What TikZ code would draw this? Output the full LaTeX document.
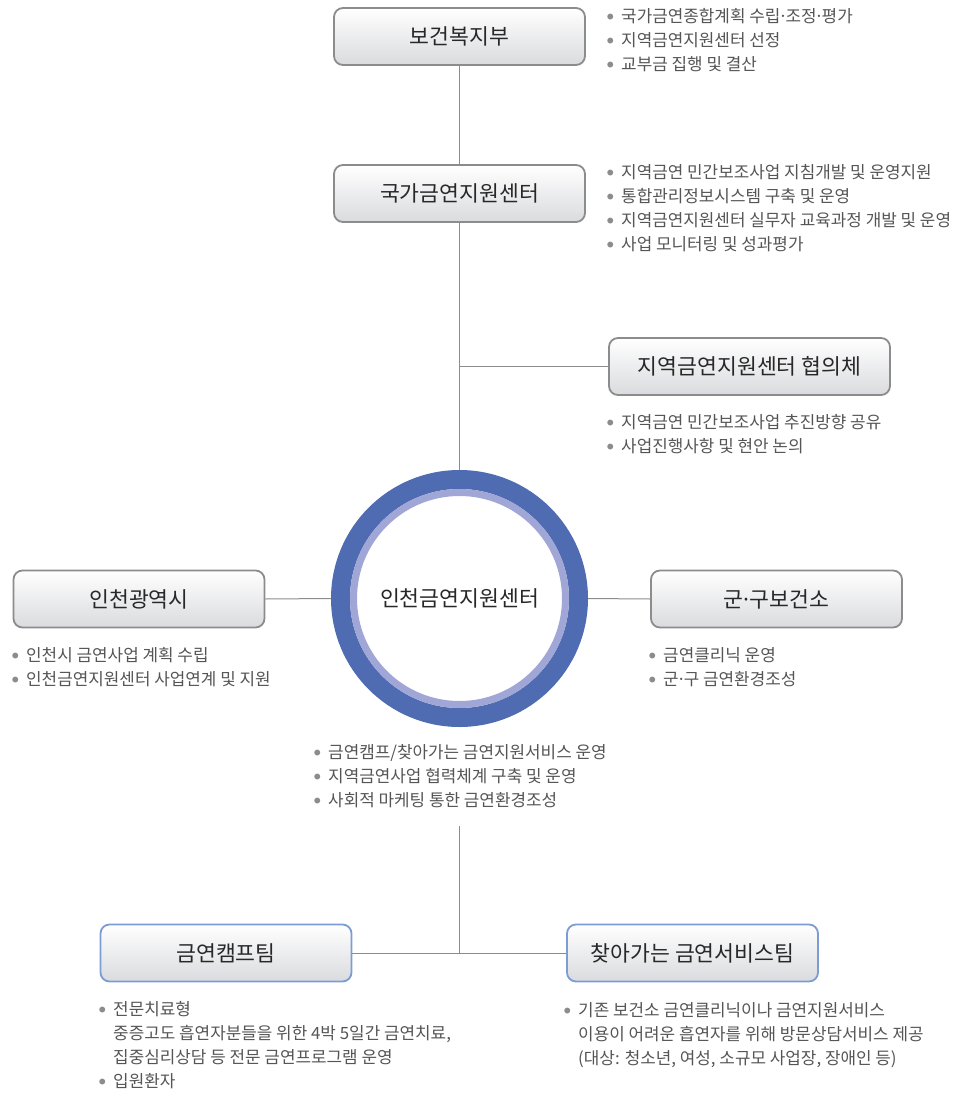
\documentclass[tikz,border=0pt]{standalone}
\usepackage{fontspec}
\setmainfont{Noto Sans CJK KR}
\usepackage{tikz}
\usetikzlibrary{positioning,calc}
\definecolor{boxline}{RGB}{140,140,140}
\definecolor{boxblue}{RGB}{124,156,212}
\definecolor{boxbottom}{RGB}{218,219,222}
\definecolor{ringdark}{RGB}{79,107,177}
\definecolor{ringlight}{RGB}{160,166,214}
\definecolor{linegray}{RGB}{140,140,140}
\definecolor{txtdark}{RGB}{40,40,40}
\definecolor{txtgray}{RGB}{85,85,85}
\definecolor{dotgray}{RGB}{140,140,140}
\newcommand{\itm}{\makebox[14pt][l]{\textcolor{dotgray}{\fontsize{6.5}{6.5}\selectfont\raisebox{2.5pt}{●}}}}
\newcommand{\ind}{\hspace*{14pt}}
\newcommand{\md}{\makebox[0.3em]{·}}

\begin{document}
\begin{tikzpicture}[
    x=1pt, y=-1pt,
    base/.style={rectangle,rounded corners=9pt,draw=boxline,line width=1.8pt,
        top color=white,bottom color=boxbottom,minimum width=251pt,minimum height=57pt,
        font={\fontsize{21.6}{26}\selectfont},text=txtdark,inner sep=0pt},
    team/.style={base,draw=boxblue},
    hub/.style={circle,draw=ringdark,line width=19pt,fill=white,minimum size=238pt,
        font={\fontsize{21.6}{26}\selectfont},text=txtdark,inner sep=0pt},
    txt/.style={anchor=north west,inner sep=0pt,align=left,text=txtgray,
        font={\fontsize{16.9}{24}\selectfont}},
    con/.style={draw=linegray,line width=1pt}
]
    \useasboundingbox (0,0) rectangle (959,1094);

    % top chain
    \node[base] (bok) at (459.5,36.5) {보건복지부};
    \node[base] (gukga) at (459.5,193.5) {국가금연지원센터};
    \node[base,minimum width=281pt] (hyup) at (749.5,366.5) {지역금연지원센터 협의체};

    \node[hub] (inc) at (459.5,598.5) {인천금연지원센터};
    \draw[ringlight,line width=7pt] (inc.center) circle (106pt);

    \node[base] (icn) at (139,599) {인천광역시};
    \node[base] (gungu) at (776.5,599) {군\md 구보건소};

    \node[team] (camp) at (226,953) {금연캠프팀};
    \node[team] (visit) at (692.5,953) {찾아가는 금연서비스팀};

    % connectors
    \draw[con] (bok.south) -- (gukga.north);
    \draw[con] (gukga.south) -- (inc.north);
    \draw[con] (hyup.west) -- (hyup.west -| inc.north);
    \draw[con] (icn.east) -- (inc.west);
    \draw[con] (inc.east) -- (gungu.west);
    \coordinate (lowtop) at (459.5,826);
    \draw[con] (lowtop) -- (lowtop |- camp.east);
    \draw[con] (camp.east) -- (visit.west);

    % task lists
    \node[txt] (bokList) at (607,8) {\itm 국가금연종합계획 수립\md 조정\md 평가\\
        \itm 지역금연지원센터 선정\\
        \itm 교부금 집행 및 결산};
    \node[txt] (gukgaList) at (607,164) {\itm 지역금연 민간보조사업 지침개발 및 운영지원\\
        \itm 통합관리정보시스템 구축 및 운영\\
        \itm 지역금연지원센터 실무자 교육과정 개발 및 운영\\
        \itm 사업 모니터링 및 성과평가};
    \node[txt] (hyupList) at (607,414) {\itm 지역금연 민간보조사업 추진방향 공유\\
        \itm 사업진행사항 및 현안 논의};
    \node[txt] (icnList) at (12,647) {\itm 인천시 금연사업 계획 수립\\
        \itm 인천금연지원센터 사업연계 및 지원};
    \node[txt] (gunguList) at (649,647) {\itm 금연클리닉 운영\\
        \itm 군\md 구 금연환경조성};
    \node[txt] (incList) at (314,744) {\itm 금연캠프/찾아가는 금연지원서비스 운영\\
        \itm 지역금연사업 협력체계 구축 및 운영\\
        \itm 사회적 마케팅 통한 금연환경조성};
    \node[txt] (campList) at (99,1001) {\itm 전문치료형\\
        \ind 중증고도 흡연자분들을 위한 4박 5일간 금연치료,\\
        \ind 집중심리상담 등 전문 금연프로그램 운영\\
        \itm 입원환자};
    \node[txt] (visitList) at (564,1002) {\itm 기존 보건소 금연클리닉이나 금연지원서비스\\
        \ind 이용이 어려운 흡연자를 위해 방문상담서비스 제공\\
        \ind (대상: 청소년, 여성, 소규모 사업장, 장애인 등)};
\end{tikzpicture}
\end{document}
